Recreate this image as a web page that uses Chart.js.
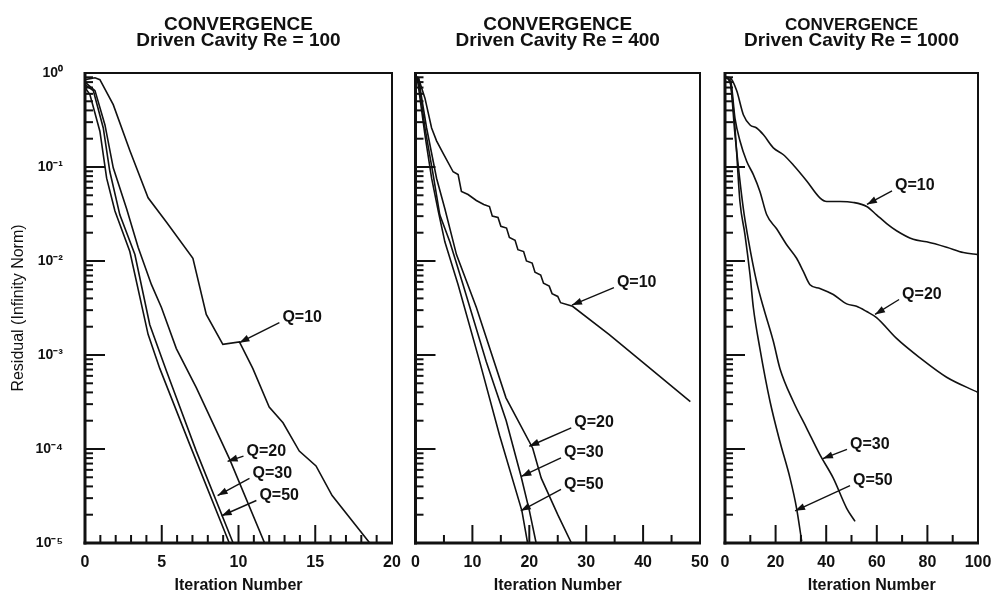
<!DOCTYPE html>
<html>
<head>
<meta charset="utf-8">
<script src="https://cdn.jsdelivr.net/npm/chart.js@4.4.1/dist/chart.umd.min.js"></script>
<style>
  html, body { margin: 0; background: #fff; }
  #wrap { position: relative; width: 992px; height: 596px; }
  #wrap canvas { position: absolute; left: 0; top: 0; }
</style>
</head>
<body>
<div id="wrap">
  <canvas id="re100" width="992" height="596"></canvas>
  <canvas id="re400" width="992" height="596"></canvas>
  <canvas id="re1000" width="992" height="596"></canvas>
</div>
<script>
// series: [iteration, residual]
const seriesNames = ['Q=10', 'Q=20', 'Q=30', 'Q=50'];

const re100Q10 = [[0,0.85],[0.65,0.89],[0.97,0.85],[1.84,0.46],[2.92,0.15],[4.11,0.047],[5.3,0.026],[7.03,0.0107],[7.9,2.7e-3],[8.98,1.3e-3],[10.06,1.38e-3],[10.93,7.2e-4],[12.0,2.8e-4],[12.9,1.9e-4],[13.96,9.5e-5],[15.05,6.6e-5],[16.1,3.2e-5],[18.55,1e-5]];
const re100Q20 = [[0,0.8],[0.65,0.65],[1.3,0.28],[1.84,0.098],[2.71,0.036],[3.46,0.014],[4.33,5.6e-3],[4.98,3.2e-3],[5.95,1.17e-3],[7.25,4.5e-4],[8.77,1.32e-4],[9.42,7.8e-5],[11.7,1e-5]];
const re100Q30 = [[0,0.75],[0.54,0.65],[1.19,0.26],[1.62,0.089],[2.27,0.031],[3.25,0.0117],[4.22,2.1e-3],[5.3,6.8e-4],[7.25,9.5e-5],[9.65,1e-5]];
const re100Q50 = [[0,0.7],[0.32,0.59],[0.97,0.24],[1.41,0.076],[1.95,0.034],[2.92,0.0126],[4.11,1.66e-3],[4.87,7.2e-4],[6.82,1.12e-4],[9.4,1e-5]];

const re400Q10 = [[0,0.9],[0.5,0.89],[1.66,0.54],[2.83,0.26],[3.7,0.19],[4.86,0.14],[6.61,0.089],[7.49,0.083],[8.07,0.055],[9.24,0.051],[10.69,0.044],[12.0,0.040],[13.0,0.038],[13.5,0.030],[14.5,0.029],[15.0,0.0234],[16.0,0.0224],[16.5,0.0178],[17.5,0.0166],[18.0,0.0132],[19.0,0.0126],[19.5,0.0100],[20.5,0.0095],[21.0,0.0076],[22.0,0.0071],[22.5,0.0058],[23.5,0.0054],[24.0,0.0045],[25.0,0.0042],[25.5,0.0036],[27.6,0.0033],[34.0,1.66e-3],[39.8,8.5e-4],[48.3,3.2e-4]];
const re400Q20 = [[0,0.9],[0.5,0.89],[1.95,0.26],[3.7,0.076],[5.16,0.036],[7.2,0.0117],[10.7,3.2e-3],[15.9,3.5e-4],[20.6,1.02e-4],[22.1,4.9e-5],[25.0,2.0e-5],[27.4,1e-5]];
const re400Q30 = [[0,0.9],[0.5,0.89],[1.66,0.26],[3.1,0.083],[4.27,0.031],[6.03,0.016],[8.36,5.6e-3],[12.44,8.5e-4],[15.94,2.0e-4],[18.56,5.1e-5],[20.02,2.2e-5],[21.2,1e-5]];
const re400Q50 = [[0,0.9],[0.3,0.89],[1.66,0.22],[2.83,0.076],[4.0,0.034],[5.16,0.016],[7.49,5.6e-3],[11.28,8.5e-4],[14.77,1.4e-4],[18.7,2.2e-5],[19.7,1e-5]];

const re1000Q10 = [[0,0.9],[2.0,0.89],[4.6,0.65],[7.25,0.36],[9.9,0.28],[12.5,0.26],[15.2,0.22],[19.1,0.16],[23.1,0.135],[27.0,0.105],[32.3,0.071],[37.5,0.047],[40.2,0.043],[45.5,0.043],[50.7,0.042],[56.0,0.038],[59.9,0.031],[63.9,0.025],[67.8,0.021],[74.4,0.017],[79.7,0.016],[87.6,0.014],[94.2,0.0123],[100,0.0117]];
const re1000Q20 = [[0,0.9],[2.0,0.89],[3.95,0.33],[5.9,0.19],[8.56,0.115],[11.2,0.083],[13.8,0.055],[16.5,0.031],[20.4,0.022],[24.3,0.015],[28.3,0.0107],[30.9,0.0078],[33.6,0.0056],[37.5,0.0051],[42.8,0.0044],[48.1,0.0035],[52.0,0.0033],[56.0,0.0029],[59.9,0.0025],[67.8,0.0015],[77.1,0.00093],[87.6,0.00058],[100,0.0004]];
const re1000Q30 = [[0,0.9],[2.0,0.81],[3.95,0.22],[7.25,0.036],[9.2,0.017],[12.5,0.006],[15.2,0.0032],[19.1,0.0014],[21.7,0.00072],[27.0,0.00032],[32.3,0.000166],[37.5,0.000087],[42.8,0.000049],[48.1,0.0000234],[51.4,0.000017]];
const re1000Q50 = [[0,0.9],[2.0,0.81],[3.95,0.26],[5.9,0.043],[7.9,0.019],[9.9,0.0071],[11.2,0.0032],[13.8,0.00117],[17.8,0.00032],[21.7,0.00012],[25.7,0.000049],[28.3,0.0000234],[30.3,0.0000105]];

const yTickValues = [1e-5, 1e-4, 1e-3, 1e-2, 1e-1, 1];
const yTickLabels = ['10⁻⁵', '10⁻⁴', '10⁻³', '10⁻²', '10⁻¹', '10⁰'];

const ink = '#111';
const family = '"Liberation Sans", Arial, Helvetica, sans-serif';

const panels = [
  {
    canvas: 're100', title: 'Driven Cavity Re = 100', headSize: 19,
    left: 85, right: 392, xMax: 20, xStep: 5, xMinor: 1, xTitleAt: 10, yAxis: true, tension: 0,
    series: [re100Q10, re100Q20, re100Q30, re100Q50],
    notes: [
      { at: [12.86, 2.5e-3], tip: [10.06, 1.35e-3] },
      { at: [10.52, 9.5e-5], tip: [9.29, 7.4e-5] },
      { at: [10.91, 5.5e-5], tip: [8.64, 3.2e-5] },
      { at: [11.36, 3.2e-5], tip: [8.9, 1.95e-5] }
    ]
  },
  {
    canvas: 're400', title: 'Driven Cavity Re = 400', headSize: 19,
    left: 415.5, right: 700, xMax: 50, xStep: 10, xMinor: 5, xTitleAt: 25, yAxis: false, tension: 0,
    series: [re400Q10, re400Q20, re400Q30, re400Q50],
    notes: [
      { at: [35.4, 5.9e-3], tip: [27.5, 3.4e-3] },
      { at: [27.9, 1.9e-4], tip: [20.0, 1.07e-4] },
      { at: [26.1, 9.1e-5], tip: [18.6, 5.1e-5] },
      { at: [26.1, 4.2e-5], tip: [18.5, 2.2e-5] }
    ]
  },
  {
    canvas: 're1000', title: 'Driven Cavity Re = 1000', headSize: 17,
    left: 725, right: 978, xMax: 100, xStep: 20, xMinor: 10, xTitleAt: 58, yAxis: false, tension: 0.3,
    series: [re1000Q10, re1000Q20, re1000Q30, re1000Q50],
    notes: [
      { at: [67.2, 0.063], tip: [56.1, 0.040] },
      { at: [70.0, 4.4e-3], tip: [59.3, 2.7e-3] },
      { at: [49.4, 1.12e-4], tip: [38.7, 7.9e-5] },
      { at: [50.6, 4.6e-5], tip: [27.7, 2.2e-5] }
    ]
  }
];

function line(ctx, x1, y1, x2, y2) {
  ctx.beginPath();
  ctx.moveTo(x1, y1);
  ctx.lineTo(x2, y2);
  ctx.stroke();
}

// frame, inward ticks, headings and the Q= labels
function decor(p) {
  return {
    id: 'decor',
    afterDraw(chart) {
      const { ctx, chartArea: a, scales: { x, y } } = chart;
      ctx.save();
      ctx.strokeStyle = ink;
      ctx.fillStyle = ink;
      ctx.lineCap = 'butt';

      ctx.lineWidth = 2;
      for (let v = 0; v <= p.xMax + 1e-9; v += p.xMinor) {
        const px = x.getPixelForValue(v);
        const major = Math.abs(v / p.xStep - Math.round(v / p.xStep)) < 1e-6;
        line(ctx, px, a.bottom, px, a.bottom - (major ? 18 : 8));
      }
      for (const dec of yTickValues) {
        for (let m = 1; m < 10; m++) {
          const v = dec * m;
          if (v > 1.0001) break;
          const py = y.getPixelForValue(v);
          line(ctx, a.left, py, a.left + (m === 1 ? 20 : 8), py);
        }
      }

      ctx.lineWidth = 3;
      line(ctx, a.left, a.top - 1, a.left, a.bottom + 1.5);
      line(ctx, a.left - 1.5, a.bottom, a.right + 1, a.bottom);
      ctx.lineWidth = 2;
      line(ctx, a.left, a.top, a.right + 1, a.top);
      line(ctx, a.right, a.top, a.right, a.bottom);

      const cx = (a.left + a.right) / 2;
      ctx.textAlign = 'center';
      ctx.textBaseline = 'alphabetic';
      ctx.font = 'bold ' + p.headSize + 'px ' + family;
      ctx.fillText('CONVERGENCE', cx, a.top - 43);
      ctx.font = 'bold 19px ' + family;
      ctx.fillText(p.title, cx, a.top - 27);

      ctx.font = 'bold 16px ' + family;
      ctx.fillText('Iteration Number', x.getPixelForValue(p.xTitleAt), 590);

      ctx.textAlign = 'left';
      ctx.textBaseline = 'middle';
      ctx.lineWidth = 1.4;
      p.notes.forEach((n, i) => {
        const tx = x.getPixelForValue(n.at[0]);
        const ty = y.getPixelForValue(n.at[1]);
        ctx.fillText(seriesNames[i], tx, ty);
        const sx = tx - 3, sy = ty + 5;
        const ex = x.getPixelForValue(n.tip[0]);
        const ey = y.getPixelForValue(n.tip[1]);
        line(ctx, sx, sy, ex, ey);
        const len = Math.hypot(ex - sx, ey - sy);
        const dx = (ex - sx) / len, dy = (ey - sy) / len;
        const bx = ex - dx * 10, by = ey - dy * 10;
        ctx.beginPath();
        ctx.moveTo(ex, ey);
        ctx.lineTo(bx - dy * 3.5, by + dx * 3.5);
        ctx.lineTo(bx + dy * 3.5, by - dx * 3.5);
        ctx.closePath();
        ctx.fill();
      });
      ctx.restore();
    }
  };
}

function makeChart(p) {
  const datasets = p.series.map((pts, i) => ({
    label: seriesNames[i],
    data: pts,
    borderColor: ink,
    borderWidth: 1.6,
    pointRadius: 0,
    fill: false,
    tension: p.tension,
    cubicInterpolationMode: p.tension ? 'monotone' : 'default'
  }));

  return new Chart(document.getElementById(p.canvas), {
    type: 'line',
    data: { datasets },
    options: {
      responsive: false,
      animation: false,
      events: [],
      layout: { padding: { left: 0, right: 992 - p.right, top: 73, bottom: 0 } },
      plugins: {
        legend: { display: false },
        tooltip: { enabled: false },
        title: { display: false }
      },
      scales: {
        x: {
          type: 'linear',
          min: 0,
          max: p.xMax,
          grid: { display: false, drawTicks: false },
          border: { display: false },
          ticks: {
            stepSize: p.xStep,
            autoSkip: false,
            maxRotation: 0,
            padding: 10,
            color: ink,
            font: { family, size: 16, weight: 'bold' }
          },
          afterFit(s) { s.height = 53; s.paddingLeft = 0; s.paddingRight = 0; }
        },
        y: {
          type: 'logarithmic',
          min: 1e-5,
          max: 1,
          grid: { display: false, drawTicks: false },
          border: { display: false },
          afterBuildTicks(s) { s.ticks = yTickValues.map(v => ({ value: v })); },
          ticks: {
            display: p.yAxis,
            padding: 22,
            color: ink,
            font: { family, size: 14, weight: 'bold' },
            callback: (v, i) => yTickLabels[i]
          },
          title: {
            display: p.yAxis,
            text: 'Residual (Infinity Norm)',
            color: ink,
            font: { family, size: 16 },
            padding: { top: 9, bottom: 0 }
          },
          afterFit(s) { s.width = p.left; s.paddingTop = 0; s.paddingBottom = 0; }
        }
      }
    },
    plugins: [decor(p)]
  });
}

panels.forEach(makeChart);
</script>
</body>
</html>
